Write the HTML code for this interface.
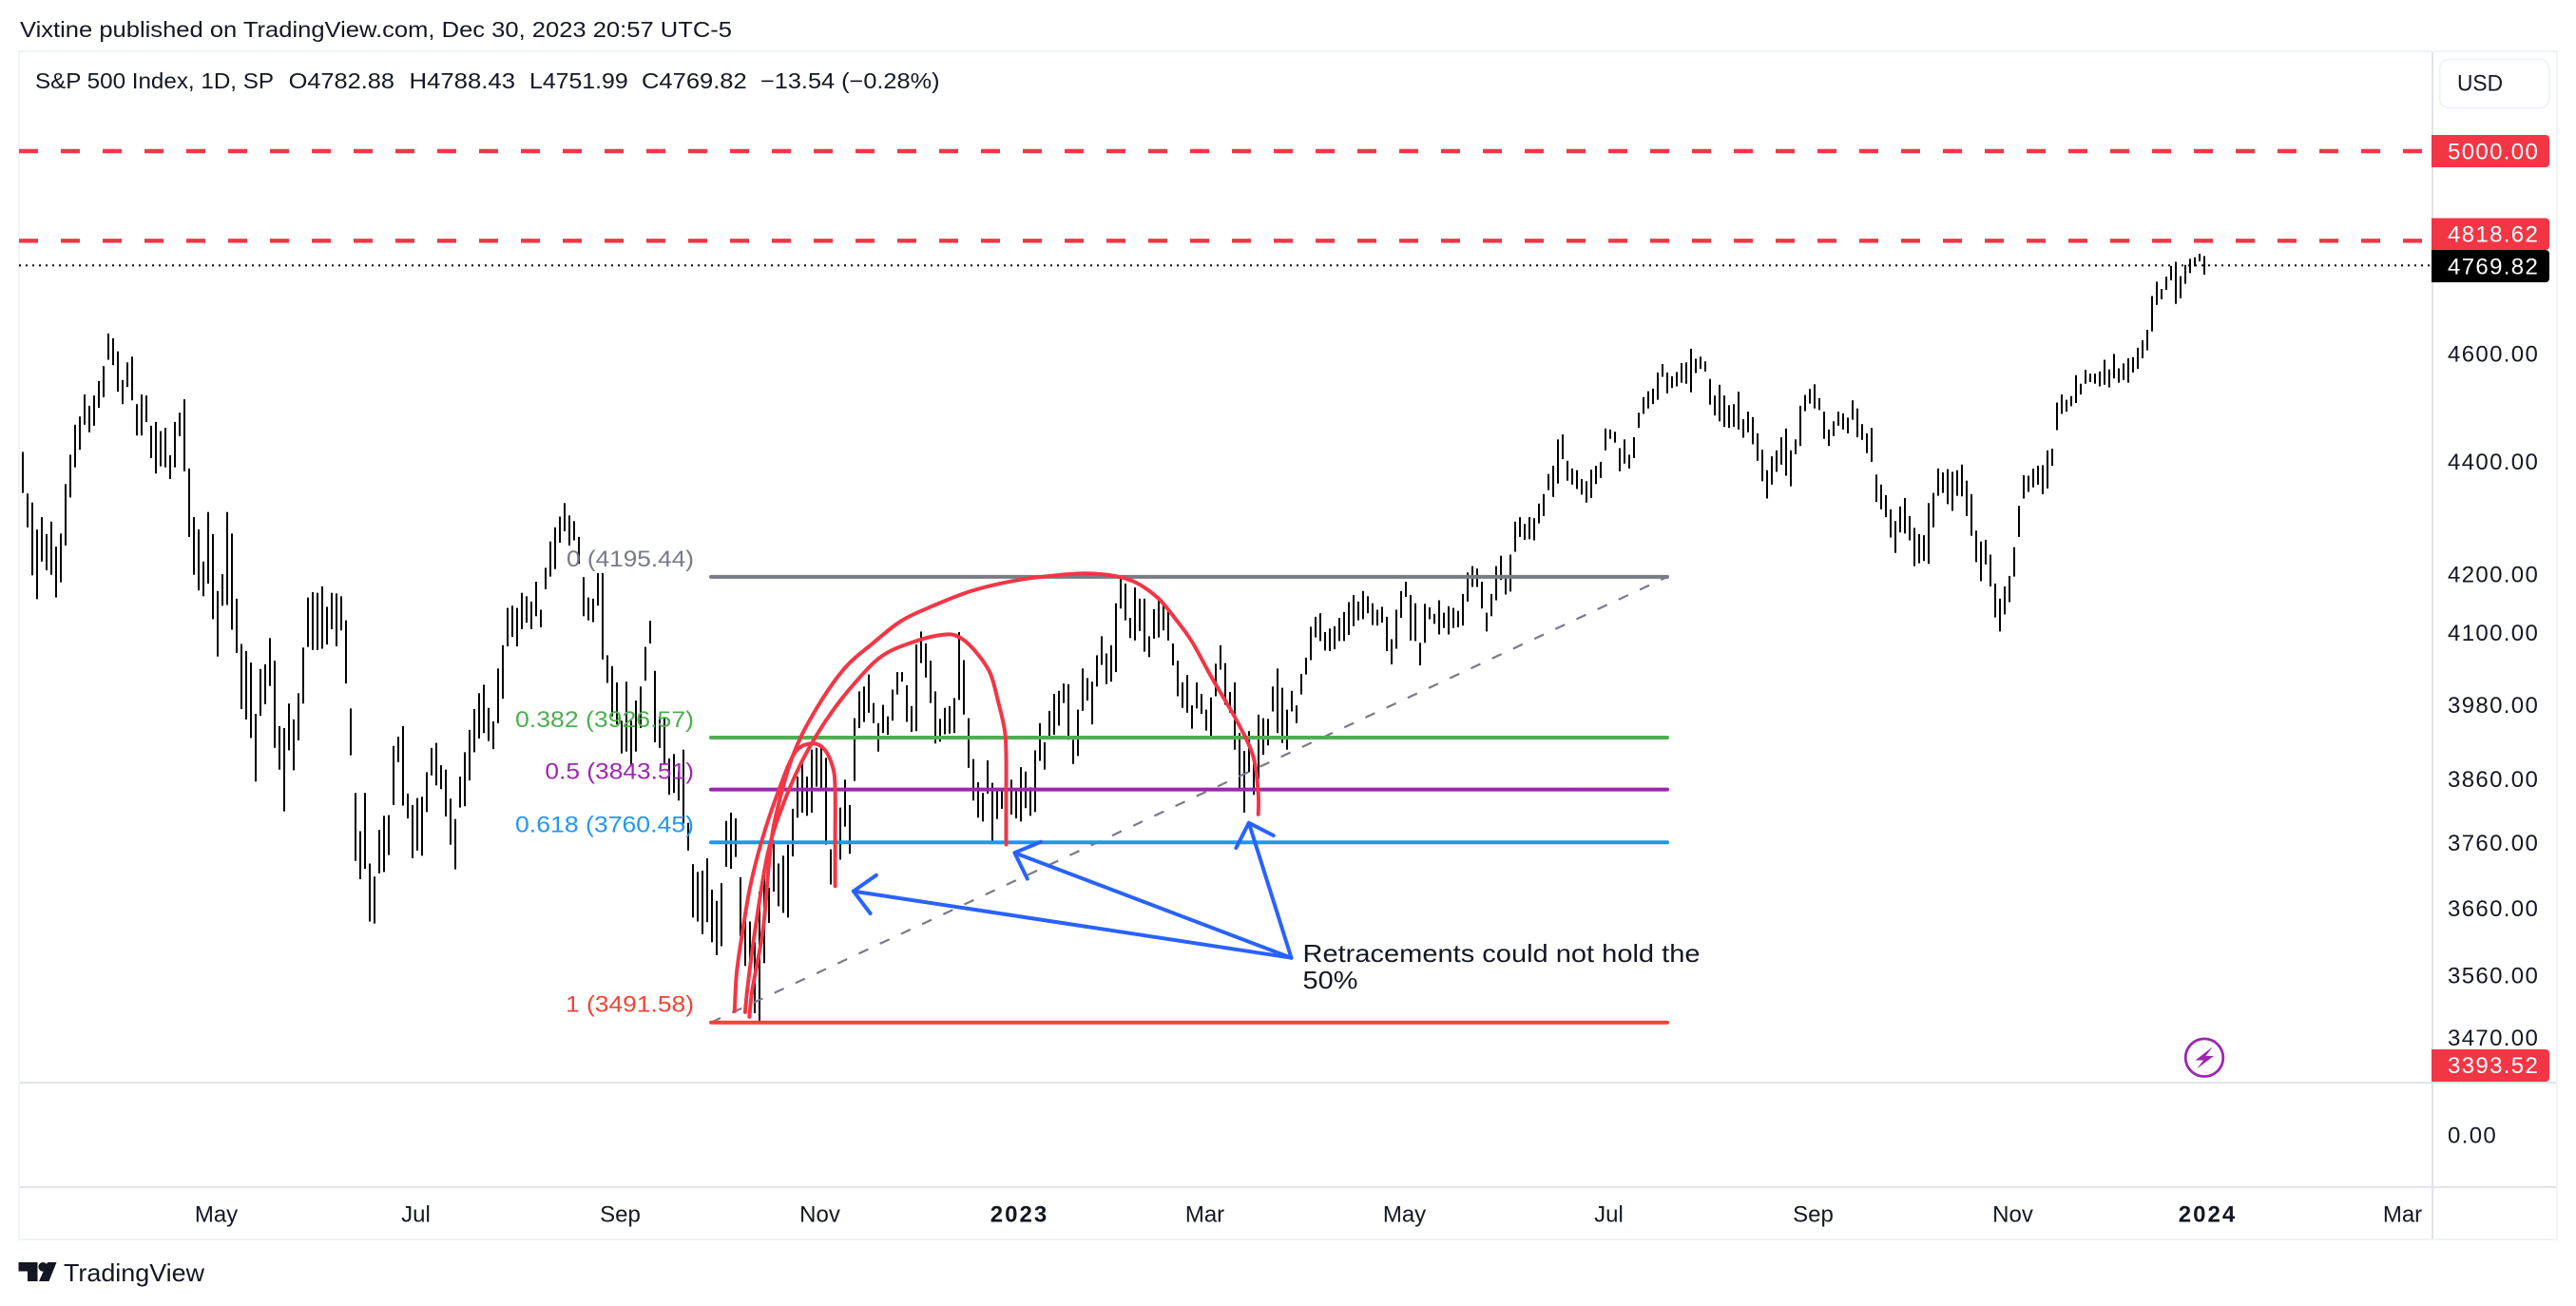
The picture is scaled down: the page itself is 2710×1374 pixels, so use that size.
<!DOCTYPE html>
<html lang="en">
<head>
<meta charset="utf-8">
<title>S&amp;P 500 Index chart</title>
<style>
html,body{margin:0;padding:0;background:#fff;width:2710px;height:1374px;overflow:hidden}
svg{display:block}
text{font-family:"Liberation Sans",sans-serif;fill:#131722}
.p{font-size:24px;letter-spacing:1.35px}
.t{font-size:24px;text-anchor:middle}
.b{font-size:24px;font-weight:bold;letter-spacing:2px;text-anchor:middle}
.h{font-size:23px}
.f{font-size:24px;text-anchor:end}
</style>
</head>
<body>
<svg id="chart" width="2710" height="1374" viewBox="0 0 2710 1374" xmlns="http://www.w3.org/2000/svg">
  <rect x="0" y="0" width="2710" height="1374" fill="#ffffff"/>
  <text class="h" x="21" y="39" textLength="749" lengthAdjust="spacingAndGlyphs">Vixtine published on TradingView.com, Dec 30, 2023 20:57 UTC-5</text>

  <g fill="#f0f3fa">
    <rect x="19" y="53" width="2672" height="2"/>
    <rect x="19" y="53" width="2" height="1252"/>
    <rect x="2689" y="53" width="2" height="1252"/>
    <rect x="19" y="1303" width="2672" height="2"/>
  </g>
  <g fill="#e0e3eb">
    <rect x="2558" y="55" width="2" height="1248"/>
    <rect x="21" y="1138" width="2668" height="2"/>
    <rect x="21" y="1248" width="2668" height="2"/>
  </g>

  <g id="bars"></g>
  <g id="levels"></g>
  <g id="fib"></g>
  <g id="brush"></g>

  <g fill="none" stroke="#2962ff" stroke-width="4" stroke-linecap="round" stroke-linejoin="round">
    <path d="M1358.5 1007.7L897.8 937.6M921.9 920.7L897.8 937.6L915.6 961"/>
    <path d="M1358.5 1007.7L1067.4 897.2M1095 885.7L1067.4 897.2L1080.8 924.6"/>
    <path d="M1358.5 1007.7L1313.8 865.7M1300.4 892L1313.8 865.7L1339.7 879"/>
  </g>

  <text x="1370.5" y="1012" font-size="26" textLength="418" lengthAdjust="spacingAndGlyphs">Retracements could not hold the</text>
  <text x="1370.5" y="1040" font-size="26" textLength="58" lengthAdjust="spacingAndGlyphs">50%</text>

  <g>
    <text class="h" x="37" y="93" textLength="251" lengthAdjust="spacingAndGlyphs">S&amp;P 500 Index, 1D, SP</text>
    <text class="h" x="303.6" y="93" textLength="111.4" lengthAdjust="spacingAndGlyphs">O4782.88</text>
    <text class="h" x="430.5" y="93" textLength="111.5" lengthAdjust="spacingAndGlyphs">H4788.43</text>
    <text class="h" x="557" y="93" textLength="103.7" lengthAdjust="spacingAndGlyphs">L4751.99</text>
    <text class="h" x="675" y="93" textLength="110.7" lengthAdjust="spacingAndGlyphs">C4769.82</text>
    <text class="h" x="800" y="93" textLength="188.5" lengthAdjust="spacingAndGlyphs">−13.54 (−0.28%)</text>
  </g>

  <g>
    <rect x="2566.5" y="62.5" width="115.5" height="51" rx="10" fill="#ffffff" stroke="#f0f3fa" stroke-width="2"/>
    <text x="2585" y="95.5" font-size="24" textLength="48" lengthAdjust="spacingAndGlyphs">USD</text>
  </g>

  <g id="price-axis"></g>
  <g id="time-axis"></g>

  <g>
    <path d="M2558 142H2678a4 4 0 0 1 4 4V172a4 4 0 0 1-4 4H2558Z" fill="#f23645"/>
    <text class="p" x="2575" y="167.5" style="fill:#fff">5000.00</text>
    <path d="M2558 229.5H2678a4 4 0 0 1 4 4V259a4 4 0 0 1-4 4H2558Z" fill="#f23645"/>
    <text class="p" x="2575" y="254.5" style="fill:#fff">4818.62</text>
    <path d="M2558 263H2678a4 4 0 0 1 4 4V293a4 4 0 0 1-4 4H2558Z" fill="#000000"/>
    <text class="p" x="2575" y="288.5" style="fill:#fff">4769.82</text>
    <path d="M2558 1104H2678a4 4 0 0 1 4 4V1134a4 4 0 0 1-4 4H2558Z" fill="#f23645"/>
    <text class="p" x="2575" y="1129" style="fill:#fff">3393.52</text>
  </g>

  <g>
    <circle cx="2319" cy="1112.7" r="19.8" fill="#ffffff" stroke="#9c27b0" stroke-width="2.8"/>
    <path d="M2327.5 1101.5L2309.5 1115.5H2318L2311 1124.5L2329 1111H2320.5Z" fill="#9c27b0"/>
  </g>

  <g>
    <path d="M19.5 1328H39.5V1348H29V1337.5H19.5Z" fill="#131722"/>
    <circle cx="45.2" cy="1332.8" r="4.8" fill="#131722"/>
    <path d="M50 1328H59.5L51.5 1348H41Z" fill="#131722"/>
    <text x="67" y="1348" font-size="26" textLength="148" lengthAdjust="spacingAndGlyphs">TradingView</text>
  </g>
</svg>

<script>
const highs = [
4417,4342,4326,4278,4300,4270,4292,4248,4271,4359,
4412,4467,4482,4523,4502,4521,4548,4576,4638,4629,
4604,4550,4583,4594,4505,4523,4521,4465,4472,4455,
4461,4411,4472,4489,4514,4387,4300,4278,4222,4309,
4270,4171,4200,4309,4271,4158,4081,4069,4050,3965,
4039,4047,4091,4053,3945,3942,3982,3956,3999,4075,
4160,4169,4168,4179,4144,4168,4167,4162,4121,3974,
3838,3778,3838,3728,3708,3780,3802,3803,3913,3928,
3945,3837,3819,3830,3832,3871,3910,3918,3882,3875,
3829,3797,3864,3903,3939,3973,3999,4013,3975,3953,
4040,4079,4142,4146,4142,4168,4162,4153,4187,4139,
4211,4257,4282,4301,4325,4303,4293,4265,4195,4160,
4158,4202,4202,4062,4044,4017,3954,4018,3954,3987,
4010,4076,4120,4036,3960,3960,3893,3900,3872,3907,
3791,3727,3715,3717,3736,3688,3671,3698,3794,3807,
3798,3707,3652,3640,3609,3685,3713,3691,3764,3728,
3740,3757,3813,3864,3887,3864,3907,3910,3912,3894,
3750,3797,3815,3859,3819,3958,4002,4010,4030,3983,
3950,3980,3961,4005,4034,4034,4012,3978,4080,4102,
4082,4053,4002,3957,3975,3978,3991,4101,4054,3958,
3892,3855,3838,3890,3854,3843,3846,3848,3859,3843,
3879,3872,3847,3906,3950,3919,3970,3998,4003,4015,
4014,3923,3972,4040,4024,4018,4062,4094,4065,4079,
4150,4197,4184,4125,4177,4158,4158,4094,4140,4161,
4151,4137,4082,4053,4017,4029,3979,4017,3998,3972,
3992,4048,4079,4049,4001,4017,3934,3905,3937,3894,
3964,3958,3957,4010,4040,4008,3972,4003,3979,4031,
4058,4110,4127,4133,4101,4107,4111,4125,4135,4152,
4164,4153,4171,4162,4150,4139,4144,4127,4089,4139,
4171,4187,4164,4150,4083,4149,4143,4132,4155,4134,
4145,4142,4137,4166,4203,4214,4210,4187,4134,4166,
4214,4232,4197,4234,4292,4300,4288,4300,4298,4324,
4341,4377,4392,4440,4449,4401,4387,4384,4368,4364,
4385,4392,4399,4460,4458,4454,4424,4440,4412,4444,
4489,4518,4529,4534,4564,4580,4564,4557,4565,4582,
4583,4609,4590,4594,4585,4552,4521,4541,4521,4503,
4505,4528,4477,4491,4481,4451,4421,4384,4409,4420,
4444,4460,4420,4440,4502,4522,4533,4542,4516,4491,
4458,4473,4491,4488,4480,4512,4497,4468,4451,4461,
4376,4358,4339,4314,4293,4319,4334,4302,4281,4270,
4268,4325,4343,4387,4380,4386,4381,4384,4394,4365,
4341,4276,4257,4260,4234,4184,4158,4179,4197,4247,
4320,4375,4374,4387,4392,4393,4420,4423,4508,4523,
4513,4520,4559,4543,4569,4562,4562,4566,4588,4570,
4599,4572,4581,4591,4593,4611,4625,4645,4710,4738,
4724,4748,4769,4777,4749,4771,4783,4786,4793,4788.43
];
const lows = [
4343,4282,4198,4157,4222,4207,4199,4160,4186,4250,
4335,4389,4421,4467,4453,4465,4498,4518,4588,4578,
4528,4505,4537,4512,4447,4447,4472,4406,4378,4391,
4389,4368,4389,4446,4382,4265,4199,4172,4162,4184,
4123,4060,4146,4147,4105,4066,3973,3956,3926,3856,
3962,3981,4011,3910,3875,3809,3906,3874,3922,3982,
4076,4071,4071,4073,4080,4106,4077,4104,4015,3898,
3732,3704,3720,3640,3637,3713,3715,3741,3819,3887,
3818,3798,3736,3748,3740,3808,3866,3850,3844,3801,
3757,3719,3815,3817,3858,3903,3925,3934,3921,3908,
3950,3990,4077,4093,4077,4106,4117,4106,4128,4109,
4174,4196,4209,4255,4275,4250,4259,4218,4128,4121,
4118,4146,4055,4016,3961,3948,3901,3904,3882,3904,
3942,4020,4082,3919,3910,3884,3835,3838,3826,3790,
3748,3646,3640,3621,3639,3609,3590,3603,3723,3720,
3738,3618,3574,3566,3505,3491.58,3578,3638,3685,3663,
3653,3646,3739,3799,3807,3802,3807,3848,3841,3757,
3696,3708,3734,3785,3743,3857,3942,3952,3967,3950,
3904,3934,3931,3954,3997,4018,3952,3936,3937,4049,
4025,3983,3917,3920,3932,3933,3934,3988,3964,3878,
3826,3799,3793,3837,3763,3797,3813,3776,3804,3798,
3793,3814,3802,3808,3889,3875,3927,3931,3946,3983,
3923,3884,3897,3970,3987,3948,4010,4046,4014,4018,
4034,4141,4121,4091,4087,4103,4068,4059,4090,4092,
4104,4087,4045,3994,3975,3967,3941,3974,3965,3938,
3926,3994,4038,3980,3967,3907,3844,3807,3871,3835,
3860,3899,3914,3969,3934,3918,3907,3969,3950,3997,
4030,4054,4092,4086,4070,4069,4072,4086,4086,4096,
4111,4121,4123,4133,4113,4112,4117,4069,4047,4073,
4125,4161,4087,4086,4045,4083,4123,4115,4097,4108,
4097,4108,4109,4112,4153,4178,4178,4141,4102,4128,
4155,4190,4165,4170,4239,4265,4260,4261,4259,4289,
4302,4348,4336,4360,4404,4365,4358,4350,4340,4326,
4334,4359,4370,4420,4441,4434,4382,4396,4387,4406,
4461,4487,4497,4505,4513,4556,4525,4535,4538,4545,
4543,4527,4563,4571,4566,4504,4484,4473,4463,4461,
4463,4458,4443,4453,4431,4401,4364,4333,4358,4381,
4394,4374,4355,4413,4428,4492,4506,4497,4494,4441,
4428,4446,4465,4458,4451,4476,4444,4439,4415,4399,
4327,4314,4300,4264,4237,4273,4271,4259,4214,4219,
4223,4218,4282,4338,4343,4323,4311,4338,4337,4302,
4267,4221,4188,4217,4179,4126,4102,4131,4152,4196,
4265,4333,4345,4353,4358,4341,4351,4392,4457,4487,
4491,4501,4507,4523,4543,4546,4543,4538,4541,4536,
4553,4545,4550,4545,4564,4571,4591,4606,4642,4693,
4704,4722,4741,4695,4706,4734,4755,4768,4778,4751.99
];
const priceTicks = ["4600.00","4400.00","4200.00","4100.00","3980.00","3860.00","3760.00","3660.00","3560.00","3470.00"];
const timeLabels = ["May","Jul","Sep","Nov","2023","Mar","May","Jul","Sep","Nov","2024","Mar"];
const timeBarIndex = [41,83,126,168,210,249,291,334,377,419,460,501];
const timeBold = ["2023","2024"];
const dashedLevels = [5000,4818.62];
const lastClose = 4769.82;
const fibRatios = ["0","0.382","0.5","0.618","1"];
const fibPrices = [4195.44,3926.57,3843.51,3760.45,3491.58];
const fibColors = ["#787b86","#4caf50","#9c27b0","#2196f3","#f44336"];
const fibLabelWidths = [134,188,156.6,188,135];

const SVGNS = "http://www.w3.org/2000/svg";
function y(price){ return 159 + 2553 * Math.log(5000 / price); }
function x(i){ return 24 + 5 * i; }
function mk(tag, parent){ const e = document.createElementNS(SVGNS, tag); parent.appendChild(e); return e; }

const barsG = document.getElementById("bars");
highs.forEach(function(h, i){
  const l = mk("line", barsG);
  
  
  l.setAttribute("x1", x(i));
  l.setAttribute("x2", x(i));
  l.setAttribute("y1", y(h).toFixed(1));
  l.setAttribute("y2", y(lows[i]).toFixed(1));
  l.setAttribute("stroke", "#000000");
  l.setAttribute("stroke-width", "2");
});

const levelsG = document.getElementById("levels");
dashedLevels.forEach(function(p){
  const l = mk("line", levelsG);
  
  
  l.setAttribute("x1", 20);
  l.setAttribute("x2", 2558);
  l.setAttribute("y1", y(p).toFixed(1));
  l.setAttribute("y2", y(p).toFixed(1));
  l.setAttribute("stroke", "#f23645");
  l.setAttribute("stroke-width", "4.4");
  l.setAttribute("stroke-dasharray", "20 24");
});
const closeLine = mk("line", levelsG);


closeLine.setAttribute("x1", 20);
closeLine.setAttribute("x2", 2558);
closeLine.setAttribute("y1", y(lastClose).toFixed(1));
closeLine.setAttribute("y2", y(lastClose).toFixed(1));
closeLine.setAttribute("stroke", "#000000");
closeLine.setAttribute("stroke-width", "2");
closeLine.setAttribute("stroke-dasharray", "2 5");

const fibG = document.getElementById("fib");
const fibX0 = 748, fibX1 = 1754;
const trend = mk("line", fibG);


trend.setAttribute("x1", fibX0);
trend.setAttribute("y1", y(fibPrices[4]).toFixed(1));
trend.setAttribute("x2", fibX1);
trend.setAttribute("y2", y(fibPrices[0]).toFixed(1));
trend.setAttribute("stroke", "#787b86");
trend.setAttribute("stroke-width", "2.2");
trend.setAttribute("stroke-dasharray", "11 13.5");
fibPrices.forEach(function(p, i){
  const l = mk("line", fibG);
  
  
  l.setAttribute("x1", fibX0);
  l.setAttribute("x2", fibX1);
  l.setAttribute("y1", y(p).toFixed(1));
  l.setAttribute("y2", y(p).toFixed(1));
  l.setAttribute("stroke", fibColors[i]);
  l.setAttribute("stroke-width", "4");
  l.setAttribute("stroke-linecap", "round");
  const t = mk("text", fibG);
  
  
  t.setAttribute("class", "f");
  t.setAttribute("x", 730);
  t.setAttribute("y", (y(p) - 11).toFixed(1));
  t.setAttribute("textLength", fibLabelWidths[i]);
  t.setAttribute("lengthAdjust", "spacingAndGlyphs");
  t.style.fill = fibColors[i];
  t.textContent = fibRatios[i] + " (" + p.toFixed(2) + ")";
});

const arcA = [[772.8,1063.9],[775,1023.5],[780.4,985],[789.3,932.3],[801.8,883.2],[818.3,834.1],[836.2,792],[854,782.2],[867.4,788.5],[876.3,807.8],[878.6,830.6],[878.6,880],[878.6,932.3]];
const arcB = [[783.9,1064.9],[787,1034],[796,967.4],[807.1,900.8],[820.5,855.2],[842.9,802.5],[869.6,757],[896.4,721.9],[927.7,690.3],[963.4,674.5],[994.6,667.5],[1010.3,671],[1025.9,685],[1041.5,707.8],[1050.4,739.4],[1057.1,769.2],[1058.5,795.5],[1058.5,840],[1058.5,888.5]];
const arcC = [[788.4,1069.8],[791.5,1041],[802.7,977.9],[809.4,904.3],[816.1,858.7],[833.9,795.5],[856.3,749.9],[887.5,704.3],[918.8,676.3],[947.8,653.5],[976.8,639.4],[1021.4,621.9],[1070.5,610.3],[1110.7,605.4],[1142,603.3],[1173.2,606.1],[1195.5,613.1],[1217.9,628.9],[1235.7,650],[1253.6,674.5],[1275.9,714.9],[1300.4,756.9],[1318.3,795.5],[1323.7,834.1],[1323.7,856.9]];
function smooth(pts){
  let d = "M" + pts[0][0] + " " + pts[0][1];
  for (let i = 0; i < pts.length - 1; i++){
    const p0 = pts[Math.max(i - 1, 0)], p1 = pts[i], p2 = pts[i + 1], p3 = pts[Math.min(i + 2, pts.length - 1)];
    const c1x = p1[0] + (p2[0] - p0[0]) / 6, c1y = p1[1] + (p2[1] - p0[1]) / 6;
    const c2x = p2[0] - (p3[0] - p1[0]) / 6, c2y = p2[1] - (p3[1] - p1[1]) / 6;
    d += "C" + c1x.toFixed(1) + " " + c1y.toFixed(1) + " " + c2x.toFixed(1) + " " + c2y.toFixed(1) + " " + p2[0] + " " + p2[1];
  }
  return d;
}
const brushG = document.getElementById("brush");
[arcA, arcB, arcC].forEach(function(pts){
  const a = mk("path", brushG);
  
  
  a.setAttribute("d", smooth(pts));
  a.setAttribute("fill", "none");
  a.setAttribute("stroke", "#f23645");
  a.setAttribute("stroke-width", "4");
  a.setAttribute("stroke-linecap", "round");
  a.setAttribute("stroke-linejoin", "round");
});

const priceAxisG = document.getElementById("price-axis");
priceTicks.forEach(function(label){
  const t = mk("text", priceAxisG);
  
  
  t.setAttribute("class", "p");
  t.setAttribute("x", 2575);
  t.setAttribute("y", (y(parseFloat(label)) + 8.5).toFixed(1));
  t.textContent = label;
});
const zeroTick = mk("text", priceAxisG);


zeroTick.setAttribute("class", "p");
zeroTick.setAttribute("x", 2575);
zeroTick.setAttribute("y", 1202.5);
zeroTick.textContent = "0.00";

const timeAxisG = document.getElementById("time-axis");
timeLabels.forEach(function(label, i){
  const t = mk("text", timeAxisG);
  
  
  t.setAttribute("class", timeBold.indexOf(label) >= 0 ? "b" : "t");
  t.setAttribute("x", x(timeBarIndex[i]) - 1.5);
  t.setAttribute("y", 1285.5);
  t.textContent = label;
});
</script>
</body>
</html>
